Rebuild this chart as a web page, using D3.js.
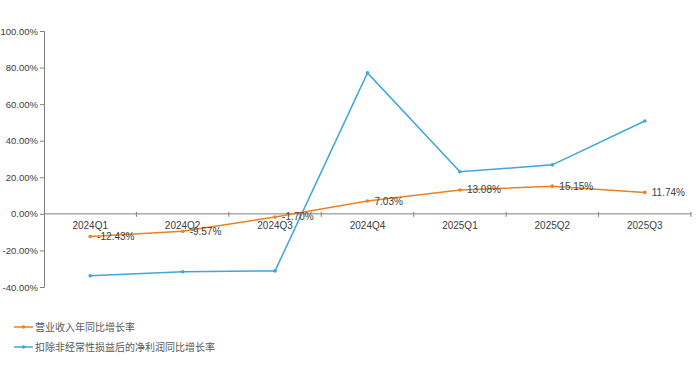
<!DOCTYPE html>
<html>
<head>
<meta charset="utf-8">
<script src="https://cdn.jsdelivr.net/npm/d3@7"></script>
<style>
  body { margin: 0; background: #fff; }
  svg { display: block; font-family: "Liberation Sans", Arial, sans-serif; }
</style>
</head>
<body>
<svg></svg>
<script>
const quarters = ["2024Q1", "2024Q2", "2024Q3", "2024Q4", "2025Q1", "2025Q2", "2025Q3"];
const revenueGrowth = [-12.43, -9.57, -1.70, 7.03, 13.08, 15.15, 11.74];
const profitGrowth = [-33.9, -31.7, -31.2, 77.1, 23.0, 26.8, 50.8];
const yTicks = [100, 80, 60, 40, 20, 0, -20, -40];
const seriesNames = ["营业收入年同比增长率", "扣除非经常性损益后的净利润同比增长率"];

const svgWidth = 700, svgHeight = 379;
const margin = { top: 31, right: 9, bottom: 92, left: 44 };
const width = svgWidth - margin.left - margin.right;
const height = svgHeight - margin.top - margin.bottom;

const orange = "#f0801f", blue = "#3fa6da";

const svg = d3.select("svg")
    .attr("width", svgWidth)
    .attr("height", svgHeight);

const g = svg.append("g")
    .attr("transform", "translate(" + margin.left + "," + margin.top + ")");

const xScale = d3.scaleBand().domain(quarters).range([0, width]);
const yScale = d3.scaleLinear().domain([-40, 100]).range([height, 0]);

// y axis
const yAxis = g.append("g")
    .call(d3.axisLeft(yScale).tickValues(yTicks).tickSize(4).tickPadding(2)
      .tickFormat(function(d) { return d.toFixed(2) + "%"; }));
yAxis.select(".domain").attr("stroke", "#7f7f7f");
yAxis.selectAll(".tick line").attr("stroke", "#7f7f7f");
yAxis.selectAll("text").attr("fill", "#404040").style("font-size", "9.5px");

// x axis along zero line
const x0 = yScale(0);
g.append("line")
    .attr("x1", 0).attr("x2", width)
    .attr("y1", x0).attr("y2", x0)
    .attr("stroke", "#7f7f7f");
g.selectAll(".xtick")
    .data(quarters)
    .enter().append("line")
    .attr("x1", function(d) { return xScale(d) + xScale.bandwidth(); })
    .attr("x2", function(d) { return xScale(d) + xScale.bandwidth(); })
    .attr("y1", x0 - 2).attr("y2", x0 + 3)
    .attr("stroke", "#7f7f7f");
g.selectAll(".xlabel")
    .data(quarters)
    .enter().append("text")
    .attr("x", function(d) { return xScale(d) + xScale.bandwidth() / 2; })
    .attr("y", x0 + 12)
    .attr("dy", "0.35em")
    .attr("text-anchor", "middle")
    .attr("fill", "#404040")
    .style("font-size", "10px")
    .text(function(d) { return d; });

const cx = function(d, i) { return xScale(quarters[i]) + xScale.bandwidth() / 2; };
const line = d3.line()
    .x(function(d, i) { return cx(d, i); })
    .y(function(d) { return yScale(d); });

function drawSeries(values, color) {
  g.append("path")
      .datum(values)
      .attr("fill", "none")
      .attr("stroke", color)
      .attr("stroke-width", 1.5)
      .attr("d", line);
  g.selectAll(null)
      .data(values)
      .enter().append("circle")
      .attr("cx", cx)
      .attr("cy", function(d) { return yScale(d); })
      .attr("r", 1.8)
      .attr("fill", color);
}

drawSeries(profitGrowth, blue);
drawSeries(revenueGrowth, orange);

// data labels for revenue growth
g.selectAll(".dlabel")
    .data(revenueGrowth)
    .enter().append("text")
    .attr("x", function(d, i) { return cx(d, i) + 7; })
    .attr("y", function(d) { return yScale(d); })
    .attr("dy", "0.35em")
    .attr("fill", "#404040")
    .style("font-size", "10px")
    .text(function(d) { return d.toFixed(2) + "%"; });

// legend
const legend = svg.append("g").attr("transform", "translate(14,327)");
[orange, blue].forEach(function(color, i) {
  const row = legend.append("g").attr("transform", "translate(0," + (i * 20) + ")");
  row.append("line").attr("x1", 0).attr("x2", 19).attr("y1", 0).attr("y2", 0)
      .attr("stroke", color).attr("stroke-width", 1.5);
  row.append("circle").attr("cx", 9.5).attr("cy", 0).attr("r", 1.8).attr("fill", color);
  row.append("text")
      .attr("x", 21).attr("y", 0).attr("dy", "0.35em")
      .attr("fill", "#595959")
      .style("font-family", "'Noto Sans CJK SC', sans-serif")
      .style("font-size", "10px")
      .text(seriesNames[i]);
});
</script>
</body>
</html>
